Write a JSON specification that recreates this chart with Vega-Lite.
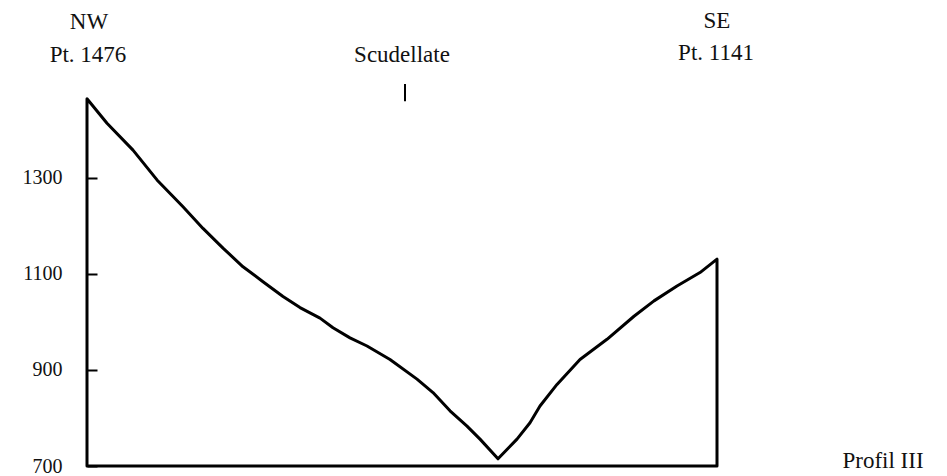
{
  "$schema": "https://vega.github.io/schema/vega-lite/v6.json",
  "width": 860,
  "height": 466,
  "autosize": {"type": "none"},
  "padding": {"left": 87, "top": 0, "right": 0, "bottom": 10},
  "background": "white",
  "config": {"view": {"stroke": null}},
  "datasets": {
    "profile": [
      {"seq": 1, "dist": 0, "elev": 700},
      {"seq": 2, "dist": 0, "elev": 1465},
      {"seq": 3, "dist": 20, "elev": 1414},
      {"seq": 4, "dist": 46, "elev": 1358},
      {"seq": 5, "dist": 70, "elev": 1296},
      {"seq": 6, "dist": 96, "elev": 1240},
      {"seq": 7, "dist": 116, "elev": 1195},
      {"seq": 8, "dist": 136, "elev": 1154},
      {"seq": 9, "dist": 156, "elev": 1115},
      {"seq": 10, "dist": 176, "elev": 1084},
      {"seq": 11, "dist": 196, "elev": 1053},
      {"seq": 12, "dist": 213, "elev": 1030},
      {"seq": 13, "dist": 233, "elev": 1008},
      {"seq": 14, "dist": 246, "elev": 988},
      {"seq": 15, "dist": 263, "elev": 967},
      {"seq": 16, "dist": 280, "elev": 950},
      {"seq": 17, "dist": 303, "elev": 922},
      {"seq": 18, "dist": 330, "elev": 881},
      {"seq": 19, "dist": 346, "elev": 853},
      {"seq": 20, "dist": 363, "elev": 815},
      {"seq": 21, "dist": 380, "elev": 783},
      {"seq": 22, "dist": 393, "elev": 756},
      {"seq": 23, "dist": 411, "elev": 715},
      {"seq": 24, "dist": 430, "elev": 756},
      {"seq": 25, "dist": 443, "elev": 790},
      {"seq": 26, "dist": 453, "elev": 825},
      {"seq": 27, "dist": 470, "elev": 870},
      {"seq": 28, "dist": 493, "elev": 922},
      {"seq": 29, "dist": 520, "elev": 964},
      {"seq": 30, "dist": 547, "elev": 1012},
      {"seq": 31, "dist": 567, "elev": 1044},
      {"seq": 32, "dist": 590, "elev": 1075},
      {"seq": 33, "dist": 613, "elev": 1103},
      {"seq": 34, "dist": 630, "elev": 1131},
      {"seq": 35, "dist": 630, "elev": 700},
      {"seq": 36, "dist": 0, "elev": 700}
    ],
    "marker": [
      {"dist": 318, "elev": 1460, "elev2": 1496}
    ],
    "labels": [
      {"text": "NW", "dist": 2, "elev": 1610},
      {"text": "Pt. 1476", "dist": 1, "elev": 1542},
      {"text": "Scudellate", "dist": 315, "elev": 1542},
      {"text": "SE", "dist": 630, "elev": 1612},
      {"text": "Pt. 1141", "dist": 629, "elev": 1546},
      {"text": "Profil III", "dist": 796, "elev": 696}
    ]
  },
  "encoding": {
    "x": {"field": "dist", "type": "quantitative", "scale": {"domain": [0, 860], "nice": false, "zero": false}, "axis": null},
    "y": {"field": "elev", "type": "quantitative", "scale": {"domain": [700, 1670.83], "nice": false, "zero": false},
      "axis": {"values": [700, 900, 1100, 1300], "format": "d", "domain": false, "grid": false, "tickSize": -10, "tickWidth": 2, "tickColor": "#000", "labelPadding": 35, "labelFont": "Liberation Serif", "labelFontSize": 20, "labelBaseline": "middle", "labelColor": "#111", "title": null}}
  },
  "layer": [
    {"data": {"name": "profile"}, "mark": {"type": "line", "stroke": "#000", "strokeWidth": 3, "strokeJoin": "round", "strokeCap": "round"}, "encoding": {"order": {"field": "seq", "type": "quantitative"}}},
    {"data": {"name": "marker"}, "mark": {"type": "rule", "stroke": "#000", "strokeWidth": 2}, "encoding": {"y2": {"field": "elev2"}}},
    {"data": {"name": "labels"}, "mark": {"type": "text", "font": "Liberation Serif", "fontSize": 23, "baseline": "alphabetic", "align": "center", "color": "#111"}, "encoding": {"text": {"field": "text"}}}
  ]
}
